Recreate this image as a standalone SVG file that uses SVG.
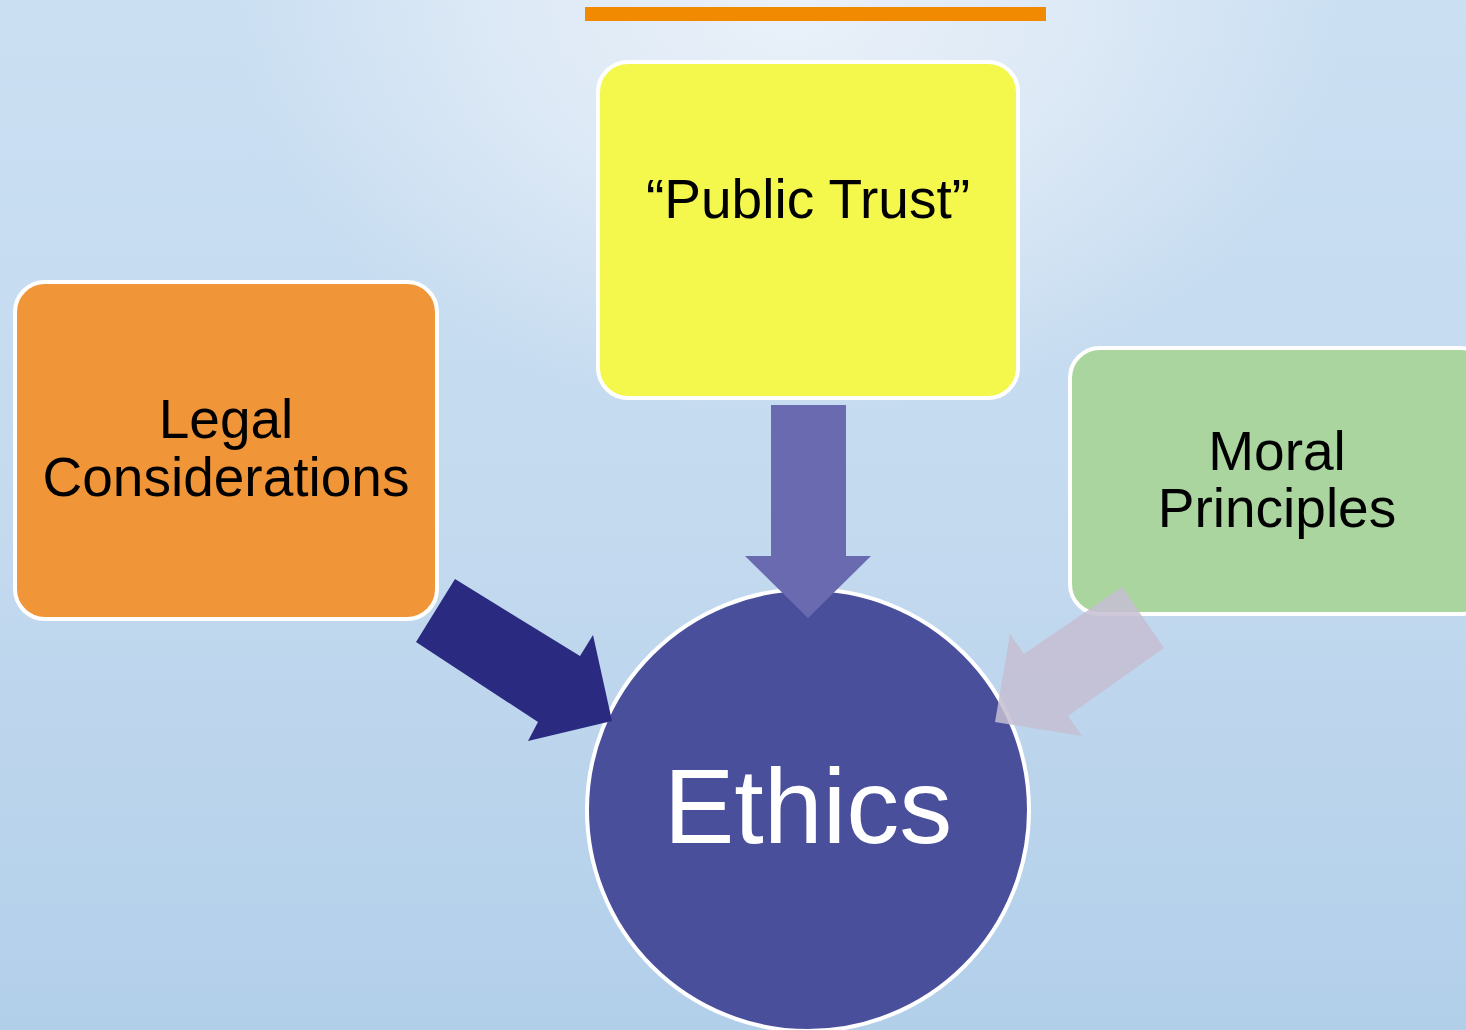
<svg xmlns="http://www.w3.org/2000/svg" width="1466" height="1030" viewBox="0 0 1466 1030">
<defs>
<linearGradient id="bgv" x1="0" y1="0" x2="0" y2="1">
<stop offset="0" stop-color="#cadff2"/>
<stop offset="0.5" stop-color="#c4daef"/>
<stop offset="1" stop-color="#b2cfea"/>
</linearGradient>
<radialGradient id="bgr" cx="790" cy="0" r="560" gradientUnits="userSpaceOnUse" gradientTransform="translate(790 0) scale(1 0.75) translate(-790 0)">
<stop offset="0" stop-color="#eaf1f9" stop-opacity="1"/>
<stop offset="0.5" stop-color="#e6eef8" stop-opacity="0.7"/>
<stop offset="1" stop-color="#e6eef8" stop-opacity="0"/>
</radialGradient>
<style>
.box{stroke:#ffffff;stroke-width:4}
.lbl{font-family:"Liberation Sans",Arial,sans-serif;font-size:55px;fill:#000000;text-anchor:middle}
.eth{font-family:"Liberation Sans",Arial,sans-serif;font-size:106px;fill:#ffffff;text-anchor:middle}
</style>
</defs>
<rect x="0" y="0" width="1466" height="1030" fill="url(#bgv)"/>
<rect x="0" y="0" width="1466" height="1030" fill="url(#bgr)"/>
<rect x="585" y="7" width="461" height="14" fill="#f18a00"/>

<g id="node-public-trust">
<rect class="box" x="598" y="62" width="420" height="336" rx="30" fill="#f4f74c"/>
<text class="lbl" x="808" y="218">“Public Trust”</text>
</g>
<g id="node-legal">
<rect class="box" x="15" y="282" width="422" height="337" rx="30" fill="#f19539"/>
<text class="lbl" x="226" y="438">Legal</text>
<text class="lbl" x="226" y="496">Considerations</text>
</g>
<g id="node-moral">
<rect class="box" x="1070" y="348" width="420" height="266" rx="30" fill="#aad59f"/>
<text class="lbl" x="1277" y="470">Moral</text>
<text class="lbl" x="1277" y="527">Principles</text>
</g>
<g id="node-ethics">
<circle class="box" cx="808" cy="810" r="221" fill="#4a4f9c"/>
<text class="eth" x="808" y="843">Ethics</text>
</g>
<g id="connectors">
<polygon points="771,405 846,405 846,556 871,556 808,618 745,556 771,556" fill="#6a6ab0"/>
<polygon points="455,579 580,656 593,635 612,721 528,741 538,722 416,642" fill="#2a2a80"/>
<polygon points="1122,587 1164,648 1068,716 1082,736 995,722 1010,634 1024,654" fill="#c6bed2" fill-opacity="0.85"/>
</g>
</svg>
